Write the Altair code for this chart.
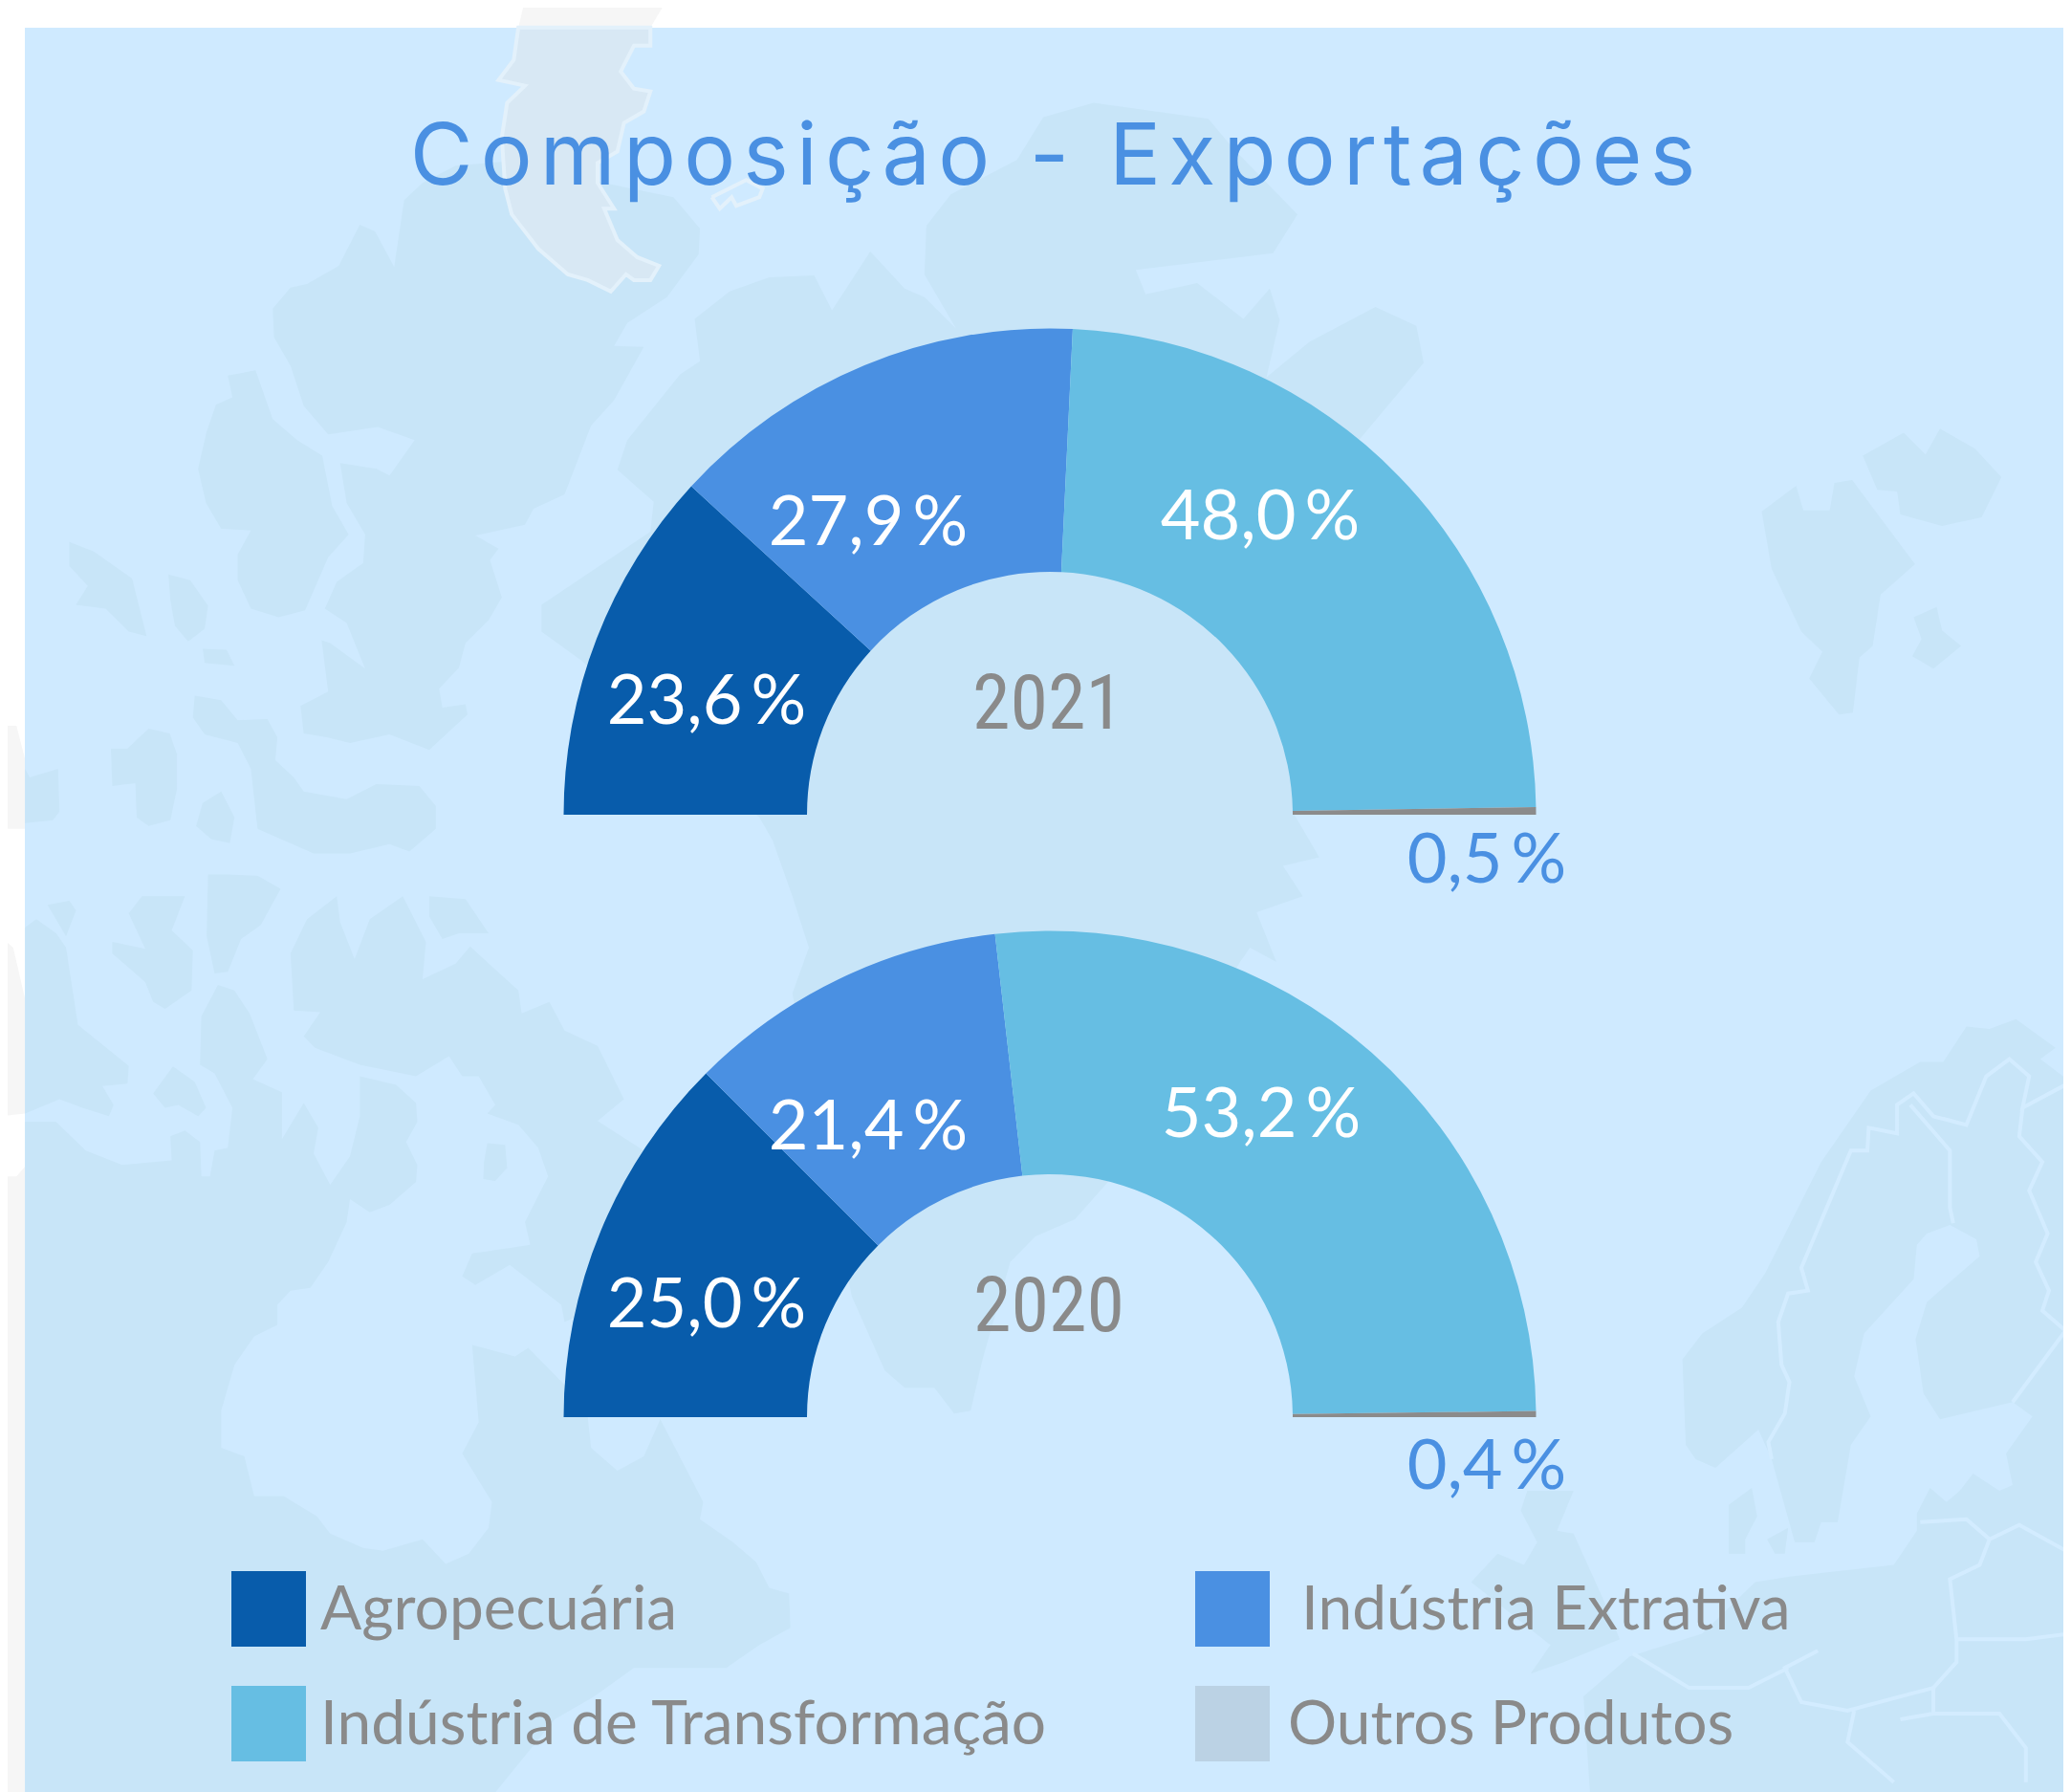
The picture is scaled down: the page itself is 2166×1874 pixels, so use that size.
import altair as alt
import pandas as pd

CATEGORIES = ["Agropecuária", "Indústria Extrativa", "Indústria de Transformação", "Outros Produtos"]
VALUES_2021 = [23.6, 27.9, 48.0, 0.5]
VALUES_2020 = [25.0, 21.4, 53.2, 0.4]
ARC_COLORS = ["#085CAB", "#4A90E2", "#66BEE3", "#8B8B8B"]
LEGEND_COLORS = ["#085CAB", "#4A90E2", "#66BEE3", "#BBD2E4"]
TITLE = "Composição - Exportações"

FONT = "Lato"
GREY = "#8A8A8A"
BLUE = "#4A90E2"
M = 8

# Faint background map, outlines (crop units; see to_px)
LAND_TL = [
    [(413,540),(440,503),(465,497),(513,465),(545,393),(568,405),(597,467),(612,350),(640,320),(690,290),(760,283),(830,300),(1020,345),(1060,400),(1058,445),(1010,520),(950,565),(930,605),(975,607),(930,700),(895,745),(855,865),(808,890),(795,918),(720,937),(755,960),(742,980),(760,1045),(740,1085),(705,1125),(695,1168),(665,1205),(670,1238),(705,1232),(708,1250),(650,1312),(590,1285),(530,1300),(495,1290),(460,1283),(455,1235),(497,1210),(487,1120),(500,1125),(553,1170),(525,1090),(492,1065),(510,1018),(550,985),(553,935),(525,880),(515,810),(570,820),(590,832),(628,770),(572,747),(497,760),(460,710),(440,640),(415,590)],
    [(345,657),(387,648),(413,733),(450,770),(488,797),(503,885),(528,935),(497,975),(462,1068),(422,1080),(380,1065),(360,1015),(360,970),(380,928),(335,925),(312,880),(300,820),(313,755),(327,708),(352,695)],
    [(105,948),(142,965),(200,1012),(222,1113),(195,1105),(160,1065),(115,1058),(133,1025),(105,990)],
    [(255,1005),(288,1015),(315,1060),(310,1100),(285,1122),(265,1095),(258,1050)],
    [(307,1135),(343,1137),(355,1165),(310,1160)],
    [(295,1217),(335,1225),(360,1260),(405,1258),(420,1290),(417,1330),(445,1360),(460,1385),(525,1398),(570,1372),(635,1375),(660,1410),(660,1450),(620,1490),(590,1477),(530,1493),(475,1493),(390,1450),(380,1345),(360,1300),(310,1285),(292,1255)],
    [(168,1310),(193,1310),(225,1275),(257,1283),(268,1320),(268,1380),(258,1435),(225,1445),(207,1430),(205,1370),(170,1375)],
    [(335,1385),(355,1430),(348,1475),(320,1468),(297,1445),(307,1405)],
    [(38,1345),(45,1360),(88,1345),(90,1420),(80,1435),(38,1440)],
    [(1052,558),(1105,510),(1165,485),(1233,482),(1260,543),(1318,440),(1370,505),(1400,520),(1448,575),(1400,480),(1403,395),(1440,340),(1540,280),(1580,205),(1656,180),(1830,208),(1868,260),(1965,375),(1928,443),(1720,472),(1735,515),(1813,495),(1883,558),(1923,505),(1938,560),(1918,660),(1983,598),(2083,537),(2145,570),(2156,635),(2058,770),(1960,1425),(1998,1500),(1943,1515),(1973,1568),(1903,1596),(1933,1683),(1893,1658),(1878,1683),(1678,2068),(1628,2133),(1568,2163),(1530,2208),(1488,2378),(1470,2468),(1445,2473),(1415,2428),(1370,2428),(1340,2398),(1290,2268),(1200,1738),(1225,1658),(1200,1568),(1170,1470),(1150,1430),(880,1155),(820,1105),(820,1058),(985,930),(990,878),(935,822),(950,770),(1030,655),(1060,632)],
]
LAND_TR = [
    [(1100,895),(1152,850),(1163,893),(1203,893),(1210,845),(1237,840),(1332,987),(1280,1040),(1268,1130),(1248,1150),(1238,1247),(1217,1250),(1172,1187),(1192,1140),(1160,1105),(1115,995)],
    [(1253,797),(1315,757),(1348,795),(1370,750),(1423,785),(1463,835),(1433,905),(1373,920),(1310,900),(1305,860),(1275,857)],
    [(1330,1080),(1365,1062),(1373,1103),(1402,1130),(1360,1170),(1328,1148),(1342,1118)],
]
LAND_BL = [
    [(38,395),(85,395),(130,445),(185,470),(260,462),(258,420),(280,410),(303,430),(305,490),(318,490),(325,445),(345,440),(352,370),(325,310),(303,295),(305,210),(330,155),(355,165),(378,205),(405,285),(383,320),(427,343),(427,425),(460,362),(482,405),(475,450),(500,505),(530,455),(545,385),(545,315),(600,330),(630,362),(632,395),(615,430),(632,470),(630,500),(590,540),(560,553),(530,530),(525,570),(497,640),(470,685),(440,690),(420,715),(420,750),(385,770),(355,820),(335,900),(335,965),(370,980),(385,1050),(430,1050),(480,1085),(500,1115),(550,1140),(580,1145),(640,1125),(675,1168),(710,1150),(740,1105),(745,1060),(700,975),(725,920),(715,785),(780,805),(800,790),(855,855),(890,910),(895,965),(935,1005),(975,980),(1000,915),(1065,1060),(1060,1090),(1110,1130),(1145,1165),(1165,1210),(1195,1220),(1197,1280),(1150,1310),(1100,1350),(960,1350),(900,1400),(840,1440),(750,1568),(38,1568)],
    [(440,100),(465,40),(510,0),(515,45),(537,110),(560,40),(610,0),(645,80),(640,145),(690,118),(712,88),(785,165),(790,205),(832,185),(855,235),(905,262),(945,355),(905,393),(975,445),(1070,315),(1100,620),(855,745),(850,715),(772,645),(720,680),(700,665),(715,625),(775,615),(803,610),(795,570),(830,490),(815,440),(785,400),(738,380),(750,365),(725,315),(700,315),(680,280),(630,315),(545,295),(477,265),(460,245),(485,203),(445,200)],
    [(738,432),(765,435),(768,475),(750,498),(732,495),(733,465)],
    [(72,15),(105,8),(115,25),(100,70)],
    [(195,30),(215,0),(280,0),(260,60),(292,95),(290,165),(250,197),(232,185),(220,150),(170,100),(170,80),(220,92)],
    [(315,-38),(345,-38),(390,-36),(425,-13),(395,50),(365,75),(345,132),(325,135),(313,70)],
    [(38,55),(55,40),(85,65),(100,90),(118,225),(195,297),(193,328),(155,332),(172,365),(165,385),(125,370),(90,355),(38,380)],
    [(232,345),(262,298),(295,325),(312,370),(300,385),(270,365),(250,370)],
    [(650,0),(705,5),(740,65),(695,65),(670,75),(650,35)],
]
LAND_BR = [
    [(980,810),(1010,765),(1070,720),(1105,660),(1140,580),(1190,465),(1265,340),(1340,290),(1375,290),(1410,228),(1445,232),(1485,215),(1545,265),(1522,285),(1568,325),(1568,1568),(840,1568),(830,1400),(900,1330),(1010,1290),(1090,1200),(1145,1190),(1300,1170),(1335,1110),(1335,1080),(1355,1035),(1380,1060),(1400,1040),(1420,1010),(1460,1040),(1480,1030),(1470,975),(1510,910),(1480,885),(1370,915),(1345,870),(1333,775),(1350,710),(1430,630),(1425,600),(1385,575),(1350,590),(1335,610),(1330,670),(1255,765),(1240,840),(1265,910),(1235,960),(1215,1095),(1190,1095),(1180,1130),(1150,1130),(1115,985),(1095,933),(1030,1000),(1000,985),(985,960)],
    [(1050,1065),(1085,1035),(1093,1085),(1075,1125),(1075,1150),(1050,1150)],
    [(1108,1125),(1140,1105),(1135,1150),(1120,1150)],
    [(735,1075),(745,1040),(815,1040),(790,1110),(815,1115),(860,1230),(885,1300),(800,1340),(750,1360),(780,1310),(660,1200),(700,1150),(740,1170),(760,1130)],
]
BORDERS_BR = [
    [(1115,985),(1110,955),(1135,905),(1142,850),(1130,820),(1125,745),(1140,695),(1170,690),(1160,650),(1235,445),(1260,445),(1262,405),(1305,415),(1305,365),(1330,345),(1360,385),(1410,400),(1440,315),(1475,285),(1505,315),(1495,370),(1568,325)],
    [(1325,365),(1385,445),(1385,545),(1390,572)],
    [(1495,370),(1490,420),(1525,465),(1505,515),(1533,590),(1515,640),(1535,690),(1525,725),(1560,760),(1480,885)],
    [(1340,1095),(1410,1090),(1445,1125),(1430,1170),(1385,1195),(1395,1300),(1395,1340),(1360,1385),(1360,1430),(1310,1440)],
    [(1185,1320),(1135,1350),(1160,1410),(1230,1425),(1310,1400),(1360,1385)],
    [(1395,1300),(1500,1300),(1568,1290)],
    [(1445,1125),(1490,1100),(1568,1150)],
    [(905,1325),(990,1385),(1080,1385),(1140,1350)],
    [(1240,1425),(1230,1480),(1300,1550)],
    [(1360,1430),(1460,1430),(1500,1490),(1500,1550)],
]
PENINSULA_TOP = [(795,0),(785,48),(985,48),(1010,0)]
PENINSULA = [(785,48),(778,105),(755,140),(795,150),(768,180),(760,240),(765,330),(775,375),(815,435),(860,480),(890,490),(925,510),(948,480),(960,490),(985,490),(998,465),(965,450),(935,420),(915,365),(930,365),(905,320),(905,285),(935,265),(945,215),(975,195),(985,160),(960,155),(940,125),(960,80),(985,80),(985,48)]
ISLET = [(1078,345),(1130,315),(1155,330),(1150,345),(1115,360),(1108,345),(1090,365),(1078,345)]
EDGE_GREY = [
    [(0,70),(20,90),(38,180),(38,380),(0,385)],
    [(0,490),(25,490),(55,450),(38,420),(38,1568),(0,1568)],
]
EDGE_GREY_TOP = [(0,1270),(25,1270),(45,1360),(38,1450),(0,1450)]


def to_px(points, qx=0, qy=0):
    return [[(x + qx * 1568) / 1.448, (y + qy * 1568) / 1.673] for x, y in points]


def shapes(rings, kind="Polygon"):
    feats = []
    for r in rings:
        ring = r + [r[0]] if kind == "Polygon" and r[0] != r[-1] else r
        geom = [ring] if kind == "Polygon" else ring
        feats.append({"type": "Feature", "properties": {}, "geometry": {"type": kind, "coordinates": geom}})
    return alt.InlineData(values={"type": "FeatureCollection", "features": feats},
                          format=alt.DataFormat(property="features", type="json"))


def geo(rings, kind="Polygon", **kw):
    return alt.Chart(shapes(rings, kind)).mark_geoshape(**kw).project(type="identity", scale=1, translate=[-M, -M])


def px(v):
    return v - M


def frame(values):
    return pd.DataFrame({
        "cat": CATEGORIES,
        "value": values,
        "idx": range(4),
        "label": [f"{v:.1f}\u2009%".replace(".", ",") for v in values],
    })


theta_scale = alt.Scale(domain=[0, 100], range=[-1.5707963, 1.5707963])
color_scale = alt.Scale(domain=CATEGORIES, range=ARC_COLORS)


def donut(values, cy):
    return alt.Chart(frame(values)).mark_arc(
        outerRadius=508.5, innerRadius=254
    ).encode(
        x=alt.value(px(1098)),
        y=alt.value(px(cy)),
        theta=alt.Theta("value:Q", stack=True, scale=theta_scale),
        color=alt.Color("cat:N", scale=color_scale, legend=None),
        order=alt.Order("idx:Q"),
    )


def value_labels(values, places):
    out = []
    df = frame(values)
    for i, (x, y) in enumerate(places):
        color = BLUE if i == 3 else "#FFFFFF"
        out.append(
            alt.Chart(df.iloc[[i]]).mark_text(
                font=FONT, fontSize=72, color=color, align="center", baseline="alphabetic"
            ).encode(x=alt.value(px(x)), y=alt.value(px(y)), text="label:N")
        )
    return out


def static_text(txt, x, y, **kw):
    return alt.Chart(pd.DataFrame({"t": [txt]})).mark_text(baseline="alphabetic", **kw).encode(
        x=alt.value(px(x)), y=alt.value(px(y)), text="t:N"
    )


background = alt.Chart(pd.DataFrame({"a": [0]})).mark_rect(color="#CFEAFF").encode(
    x=alt.value(px(26)), x2=alt.value(px(2166)), y=alt.value(px(29)), y2=alt.value(px(1874))
)

LAND = "#C8E5F8"
title = static_text(
    "\u200a".join(TITLE), 1101, 193,
    font="Inter", fontSize=90, fontWeight=400, color=BLUE, align="center",
)

layers = [
    geo([to_px(r, 0, 1) for r in EDGE_GREY] + [to_px(EDGE_GREY_TOP)] + [to_px(PENINSULA_TOP)],
        fill="#F6F6F6", stroke=None),
    background,
    geo([to_px(r) for r in LAND_TL] + [to_px(r, 1, 0) for r in LAND_TR]
        + [to_px(r, 0, 1) for r in LAND_BL] + [to_px(r, 1, 1) for r in LAND_BR],
        fill=LAND, stroke=None),
    geo([to_px(r, 1, 1) for r in BORDERS_BR], kind="LineString", filled=False,
        stroke="#D3ECFF", strokeWidth=4),
    geo([to_px(PENINSULA)], fill="#D8E8F4", stroke="#E3F1FB", strokeWidth=4),
    geo([to_px(ISLET)], kind="LineString", filled=False, stroke="#E3F1FB", strokeWidth=4),
    title, donut(VALUES_2021, 852), donut(VALUES_2020, 1482),
]
layers += value_labels(VALUES_2021, [(739, 757), (908, 570), (1318, 564), (1555, 923)])
layers += value_labels(VALUES_2020, [(739, 1388), (908, 1202), (1319, 1189), (1555, 1557)])

YEAR_FONT = "Roboto Condensed, Open Sans Condensed, DejaVu Sans Condensed, sans-serif"
for year, x, y in [("2021", 1096, 762), ("2020", 1097, 1392)]:
    layers.append(static_text(year, x, y, font=YEAR_FONT, fontSize=80, fontWeight=400,
                              color=GREY, align="center"))

swatch_pos = [(242, 1643), (1250, 1643), (242, 1763), (1250, 1763)]
text_pos = [(335, 1704), (1361, 1704), (335, 1824), (1347, 1824)]
for i, cat in enumerate(CATEGORIES):
    sx, sy = swatch_pos[i]
    layers.append(
        alt.Chart(pd.DataFrame({"cat": [cat]})).mark_rect(color=LEGEND_COLORS[i]).encode(
            x=alt.value(px(sx)), x2=alt.value(px(sx + 78)),
            y=alt.value(px(sy)), y2=alt.value(px(sy + 79)),
        )
    )
    tx, ty = text_pos[i]
    layers.append(static_text(cat, tx, ty, font=FONT, fontSize=64, color=GREY, align="left"))

chart = alt.layer(*layers).properties(
    width=2150, height=1866, padding=0, background="#FFFFFF",
    autosize=alt.AutoSizeParams(type="none"),
).configure_view(strokeWidth=0)

chart.save("out.html", embed_options={"renderer": "svg", "actions": False})
